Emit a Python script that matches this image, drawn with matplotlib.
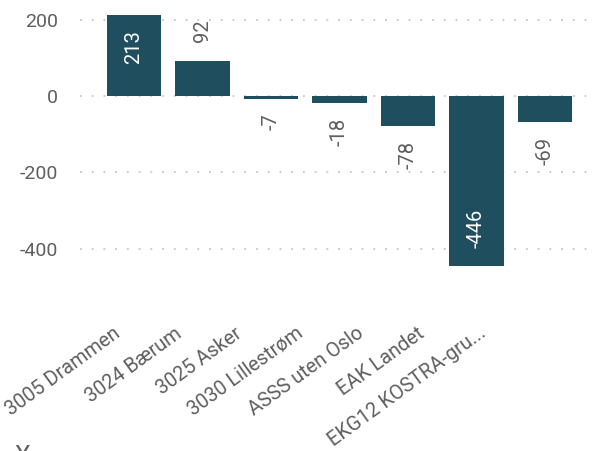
import matplotlib
matplotlib.use("Agg")
import matplotlib.pyplot as plt
import numpy as np

categories = ["3005 Drammen", "3024 Bærum", "3025 Asker", "3030 Lillestrøm",
              "ASSS uten Oslo", "EAK Landet", "EKG12 KOSTRA-gru..."]
values = [213, 92, -7, -18, -78, -446, -69]
yticks = [-400, -200, 0, 200]
ytick_labels = ["-400", "-200", "0", "200"]

BAR = "#1F4E5F"
TXT = "#5F5F5F"
GRID = "#C8C6C4"

plt.rcParams['font.family'] = ['Roboto', 'DejaVu Sans']

W, H = 592, 451
fig = plt.figure(figsize=(W / 100, H / 100), dpi=100)
L, R, T, B = 80, 590, 8, 318
ax = fig.add_axes([L / W, (H - B) / H, (R - L) / W, (B - T) / H])

x = np.arange(len(values))
ax.bar(x, values, width=0.79, color=BAR, zorder=3)

px_per_unit = 68.5
c0 = 134
ax.set_xlim((L - c0) / px_per_unit, (R - c0) / px_per_unit)
ypx = 0.382
ax.set_ylim(-(B - 96) / ypx, (96 - T) / ypx)

ax.set_yticks(yticks)
ax.set_yticklabels(ytick_labels)
ax.tick_params(axis='y', length=0, pad=16, labelsize=14, labelcolor=TXT)
ax.set_xticks([])
for s in ax.spines.values():
    s.set_visible(False)
ax.grid(axis='y', color=GRID, linewidth=1.3, linestyle=(0, (1, 5.5)), zorder=0)

# category labels on a twin axis (label spacing differs from bar spacing)
ax2 = ax.twiny()
lab0, lab_step = 113, 60.8
ax2.set_xlim((L - lab0) / lab_step, (R - lab0) / lab_step)
ax2.xaxis.set_ticks_position('bottom')
ax2.set_xticks(x)
ax2.set_xticklabels(categories, rotation=36, ha='right', va='top',
                    rotation_mode='anchor', fontsize=14.3, color=TXT)
ax2.tick_params(axis='x', length=0, pad=4)
for s in ax2.spines.values():
    s.set_visible(False)

# data labels
for xi, v in zip(x, values):
    inside = (v == max(values)) or (v == min(values))
    if v >= 0:
        if inside:
            off, va, col = -15, 'top', 'white'
        else:
            off, va, col = 19, 'bottom', TXT
    else:
        if inside:
            off, va, col = 18, 'bottom', 'white'
        else:
            off, va, col = -15, 'top', TXT
    ax.annotate(f"{v}", (xi, v), xytext=(0, off), textcoords='offset pixels',
                ha='center', va=va, rotation=90, fontsize=14.5, color=col, zorder=4)

fig.text(22 / W, (H - 445) / H, "X", ha='center', va='top', fontsize=18, color=TXT)

fig.savefig("out.png", dpi=100)
